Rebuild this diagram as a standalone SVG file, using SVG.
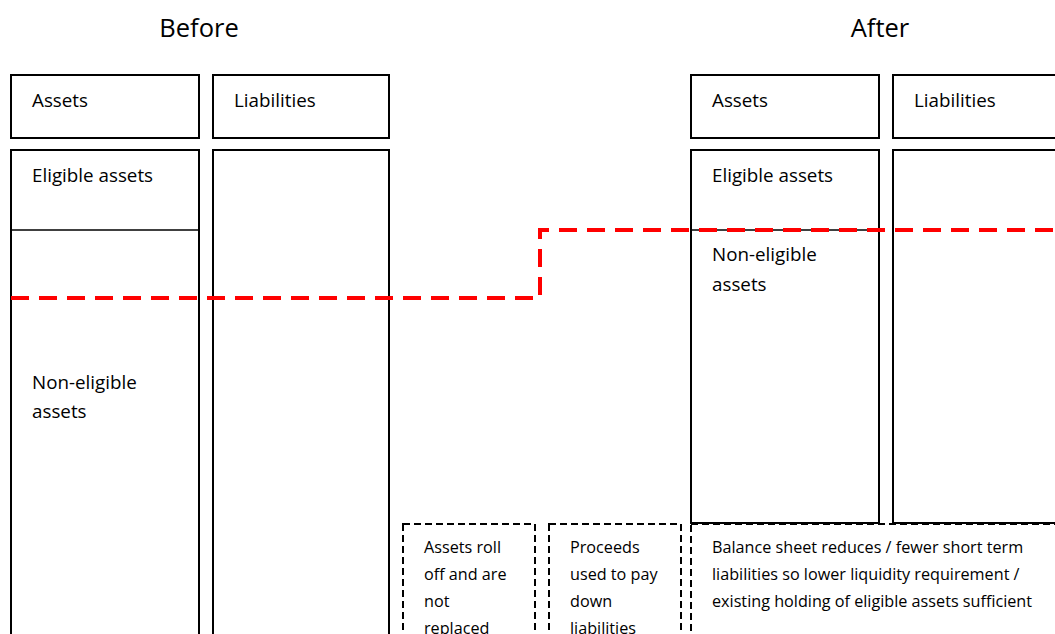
<svg xmlns="http://www.w3.org/2000/svg" width="1055" height="634" viewBox="0 0 1055 634">
<style>
.box{fill:#fff;stroke:#000;stroke-width:2}
.dbox{fill:none;stroke:#000;stroke-width:2;stroke-dasharray:7,4}
.t{font-family:"Open Sans","Liberation Sans",sans-serif;font-size:18.8px;fill:#000}
.s{font-family:"Open Sans","Liberation Sans",sans-serif;font-size:16.2px;fill:#000}
.h{font-family:"Open Sans","Liberation Sans",sans-serif;font-size:25.5px;fill:#000}
.red{fill:none;stroke:#f00;stroke-width:4;stroke-dasharray:18,10}
</style>
<rect width="1055" height="634" fill="#fff"/>
<text class="h" x="199" y="37" text-anchor="middle">Before</text>
<text class="h" x="880" y="37" text-anchor="middle">After</text>
<g id="before-assets-header"><rect class="box" x="11" y="75" width="188" height="63"/><text class="t" x="32" y="107">Assets</text></g>
<g id="before-liabilities-header"><rect class="box" x="213" y="75" width="176" height="63"/><text class="t" x="234" y="107">Liabilities</text></g>
<g id="before-assets"><rect class="box" x="11" y="150" width="188" height="500"/><line x1="11" y1="230" x2="199" y2="230" stroke="#000" stroke-width="1.5"/><text class="t" x="32" y="182">Eligible assets</text><text class="t" x="32" y="389">Non-eligible</text><text class="t" x="32" y="418">assets</text></g>
<g id="before-liabilities"><rect class="box" x="213" y="150" width="176" height="500"/></g>
<g id="after-assets-header"><rect class="box" x="691" y="75" width="188" height="63"/><text class="t" x="712" y="107">Assets</text></g>
<g id="after-liabilities-header"><rect class="box" x="893" y="75" width="176" height="63"/><text class="t" x="914" y="107">Liabilities</text></g>
<g id="after-assets"><rect class="box" x="691" y="150" width="188" height="373"/><line x1="691" y1="230" x2="879" y2="230" stroke="#000" stroke-width="1.5"/><text class="t" x="712" y="182">Eligible assets</text><text class="t" x="712" y="261">Non-eligible</text><text class="t" x="712" y="291">assets</text></g>
<g id="after-liabilities"><rect class="box" x="893" y="150" width="176" height="373"/></g>
<g id="note-roll-off"><rect class="dbox" x="403" y="524" width="132" height="130"/><text class="s"><tspan x="424" y="553">Assets roll</tspan><tspan x="424" y="580">off and are</tspan><tspan x="424" y="607">not</tspan><tspan x="424" y="634">replaced</tspan></text></g>
<g id="note-proceeds"><rect class="dbox" x="549" y="524" width="132" height="130"/><text class="s"><tspan x="570" y="553">Proceeds</tspan><tspan x="570" y="580">used to pay</tspan><tspan x="570" y="607">down</tspan><tspan x="570" y="634">liabilities</tspan></text></g>
<g id="note-balance"><rect class="dbox" x="691" y="524" width="380" height="130"/><text class="s"><tspan x="712" y="553">Balance sheet reduces / fewer short term</tspan><tspan x="712" y="580">liabilities so lower liquidity requirement /</tspan><tspan x="712" y="607">existing holding of eligible assets sufficient</tspan></text></g>
<g id="connectors"><polyline class="red" points="11,298 540,298 540,230 1055,230"/></g>
</svg>
